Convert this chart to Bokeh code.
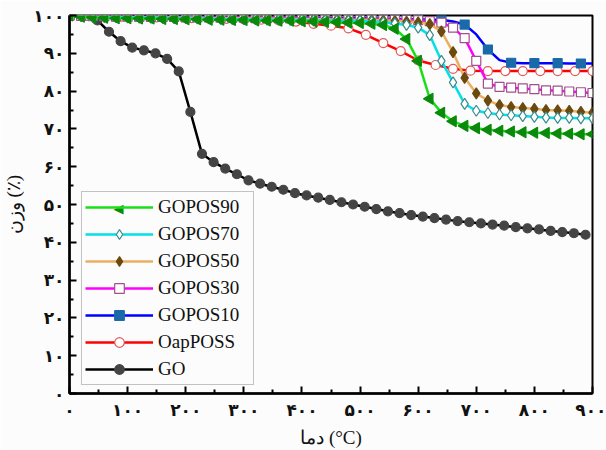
from bokeh.plotting import figure
from bokeh.models import Legend, LegendItem, FixedTicker, ColumnDataSource, Label
from bokeh.embed import file_html
from bokeh.resources import INLINE

# ---------------- data ----------------
x_ticks = [0, 100, 200, 300, 400, 500, 600, 700, 800, 900]
x_tick_labels = ["۰", "۱۰۰", "۲۰۰", "۳۰۰", "۴۰۰", "۵۰۰", "۶۰۰", "۷۰۰", "۸۰۰", "۹۰۰"]
y_ticks = [0, 10, 20, 30, 40, 50, 60, 70, 80, 90, 100]
y_tick_labels = ["۰", "۱۰", "۲۰", "۳۰", "۴۰", "۵۰", "۶۰", "۷۰", "۸۰", "۹۰", "۱۰۰"]

x_title = "\u202aدما (°C)\u202c"
y_title = "\u202aوزن (٪)\u202c"

temps20 = list(range(0, 920, 20))

gopos90 = [100, 99.7, 99.5, 99.4, 99.3, 99.3, 99.2, 99.2, 99.1, 99.1,
           99.0, 99.0, 98.9, 98.9, 98.8, 98.8, 98.7, 98.7, 98.6, 98.6,
           98.5, 98.4, 98.3, 98.2, 98.1, 98.0, 97.8, 97.5, 96.5, 93.8,
           88.0, 78.0, 74.3, 72.0, 70.8, 70.2, 69.8, 69.5, 69.3, 69.1,
           69.0, 68.9, 68.8, 68.7, 68.6, 68.6]

gopos70 = [100, 99.8, 99.7, 99.6, 99.6, 99.5, 99.5, 99.4, 99.4, 99.3,
           99.3, 99.2, 99.2, 99.1, 99.1, 99.0, 99.0, 98.9, 98.9, 98.8,
           98.8, 98.7, 98.7, 98.6, 98.6, 98.6, 98.4, 98.2, 97.9, 97.5,
           96.8, 94.8, 88.0, 82.3, 76.6, 74.8, 74.2, 73.8, 73.6, 73.4,
           73.2, 73.0, 72.9, 72.9, 72.8, 72.8]

gopos50 = [100, 99.8, 99.7, 99.7, 99.6, 99.6, 99.5, 99.5, 99.5, 99.4,
           99.4, 99.4, 99.3, 99.3, 99.3, 99.2, 99.2, 99.2, 99.1, 99.1,
           99.1, 99.0, 99.0, 98.9, 98.9, 98.8, 98.8, 98.7, 98.6, 98.4,
           98.2, 97.7, 95.8, 90.3, 83.5, 79.4, 77.5, 76.3, 75.8, 75.5,
           75.3, 75.0, 74.9, 74.8, 74.5, 74.3]

gopos30 = [100, 99.9, 99.8, 99.8, 99.7, 99.7, 99.7, 99.6, 99.6, 99.6,
           99.5, 99.5, 99.5, 99.4, 99.4, 99.4, 99.3, 99.3, 99.3, 99.2,
           99.2, 99.2, 99.1, 99.1, 99.1, 99.0, 99.0, 99.0, 98.9, 98.9,
           98.8, 98.5, 98.1, 96.8, 94.0, 88.0, 82.0, 81.1, 80.9, 80.7,
           80.5, 80.2, 80.1, 79.9, 79.7, 79.5]

gopos10 = [100, 99.9, 99.9, 99.8, 99.8, 99.8, 99.7, 99.7, 99.7, 99.7,
           99.6, 99.6, 99.6, 99.6, 99.5, 99.5, 99.5, 99.5, 99.4, 99.4,
           99.4, 99.4, 99.3, 99.3, 99.3, 99.3, 99.2, 99.2, 99.1, 99.1,
           99.0, 98.9, 98.9, 98.4, 97.6, 95.0, 91.0, 88.2, 87.5, 87.4,
           87.4, 87.4, 87.4, 87.3, 87.3, 87.3]

temps30 = list(range(0, 930, 30))
oapposs = [100, 99.9, 99.8, 99.7, 99.6, 99.5, 99.4, 99.3, 99.2, 99.1,
           99.0, 98.9, 98.7, 98.4, 97.8, 97.3, 96.6, 94.9, 92.7, 90.6,
           88.1, 86.9, 85.9, 85.4, 85.3, 85.3, 85.3, 85.3, 85.3, 85.3, 85.3]

go_temps = [0] + list(range(48, 900, 20))
go = [100, 98.7, 95.7, 93.2, 91.5, 90.8, 90.0, 88.5, 85.2, 74.5, 63.4,
      61.2, 59.5, 58.0, 56.4, 55.5, 54.7, 53.9, 53.0, 52.4, 51.8,
      51.2, 50.6, 50.0, 49.4, 48.8, 48.2, 47.7, 47.2, 46.8, 46.4,
      46.0, 45.6, 45.3, 45.0, 44.7, 44.4, 44.0, 43.7, 43.4, 43.0,
      42.7, 42.4, 42.0]

# ---------------- figure ----------------
p = figure(width=606, height=450, x_range=(0, 900), y_range=(0, 100),
           output_backend="svg", toolbar_location=None,
           min_border_left=68, min_border_right=14, min_border_top=15,
           min_border_bottom=52)
p.background_fill_color = "#FCFCFC"
p.border_fill_color = "#FCFCFC"
p.grid.visible = False
p.outline_line_color = "black"
p.outline_line_width = 2

for ax in (p.xaxis[0], p.yaxis[0]):
    ax.axis_line_width = 2.5
    ax.axis_line_color = "black"
    ax.major_tick_in = 7
    ax.major_tick_out = 0
    ax.minor_tick_in = 4
    ax.minor_tick_out = 0
    ax.major_tick_line_width = 2
    ax.minor_tick_line_width = 2
    ax.major_label_text_font = "DejaVu Sans"
    ax.major_label_text_font_style = "bold"
    ax.major_label_text_font_size = "17px"
    ax.major_label_text_color = "#111111"
    ax.axis_label_text_font = "Liberation Serif"
    ax.axis_label_text_font_style = "normal"
    ax.axis_label_text_font_size = "19px"
    ax.axis_label_text_color = "#111111"

p.xaxis[0].ticker = FixedTicker(ticks=x_ticks, minor_ticks=[t + 50 for t in x_ticks[:-1]])
p.yaxis[0].ticker = FixedTicker(ticks=y_ticks, minor_ticks=[t + 5 for t in y_ticks[:-1]])
p.xaxis[0].major_label_overrides = dict(zip(x_ticks, x_tick_labels))
p.yaxis[0].major_label_overrides = dict(zip(y_ticks, y_tick_labels))
p.xaxis[0].axis_label = x_title
p.yaxis[0].axis_label = y_title
p.xaxis[0].major_label_standoff = 6
p.yaxis[0].major_label_standoff = 5
p.xaxis[0].axis_label_standoff = 4
p.yaxis[0].axis_label_standoff = 6

series = [
    # label, x, y, line color, marker, fill, edge, angle(deg), marker step
    ("GO", go_temps, go, "black", "circle", "#444444", "#444444", 0, 1),
    ("OapPOSS", temps30, oapposs, "#FF0000", "circle", "white", "#E05A5A", 0, 1),
    ("GOPOS10", temps20, gopos10, "#0000FF", "square", "#1A6AAA", "#1A6AAA", 0, 2),
    ("GOPOS30", temps20, gopos30, "#FF00FF", "square", "white", "#A0508A", 0, 1),
    ("GOPOS50", temps20, gopos50, "#E8B060", "diamond", "#6B4A10", "#6B4A10", 0, 1),
    ("GOPOS70", temps20, gopos70, "#00E0E8", "diamond", "white", "#3C8C8C", 0, 1),
    ("GOPOS90", temps20, gopos90, "#18E018", "triangle", "#0A8A0A", "#0A8A0A", 90, 1),
]

items = {}
for label, xs, ys, lc, mk, fc, ec, ang, step in series:
    l = p.line(xs, ys, line_color=lc, line_width=2.5)
    mx = xs[::step]
    my = ys[::step]
    src = ColumnDataSource(dict(x=mx, y=my, a=[ang] * len(mx)))
    size = 11 if mk in ("diamond", "triangle") else 9
    s = p.scatter("x", "y", source=src, marker=mk, size=size, angle="a",
                  angle_units="deg", fill_color=fc, line_color=ec, line_width=1.2)
    # the legend cannot rotate markers: the left-pointing triangle is added below
    items[label] = [l] if ang else [l, s]

order = ["GOPOS90", "GOPOS70", "GOPOS50", "GOPOS30", "GOPOS10", "OapPOSS", "GO"]
legend = Legend(items=[LegendItem(label=k, renderers=items[k]) for k in order],
                location=(12, 8), level="annotation")
legend.glyph_width = 68
legend.glyph_height = 24
legend.label_standoff = 5
legend.label_width = 92
legend.spacing = 3
legend.padding = 3
legend.margin = 0
legend.label_text_font = "Liberation Serif"
legend.label_text_font_size = "19px"
legend.label_text_color = "#111111"
legend.border_line_color = "#888888"
legend.border_line_width = 1.2
legend.background_fill_alpha = 0
p.add_layout(legend)

# left-pointing triangle on the GOPOS90 legend row (screen units, frame-relative)
tri = Label(x=49, y=185, x_units="screen", y_units="screen", text="◀",
            text_font="DejaVu Sans", text_font_size="13px", text_color="#0A8A0A",
            text_align="center", text_baseline="middle", level="overlay")
p.add_layout(tri)

open("out.html", "w").write(file_html(p, INLINE))
